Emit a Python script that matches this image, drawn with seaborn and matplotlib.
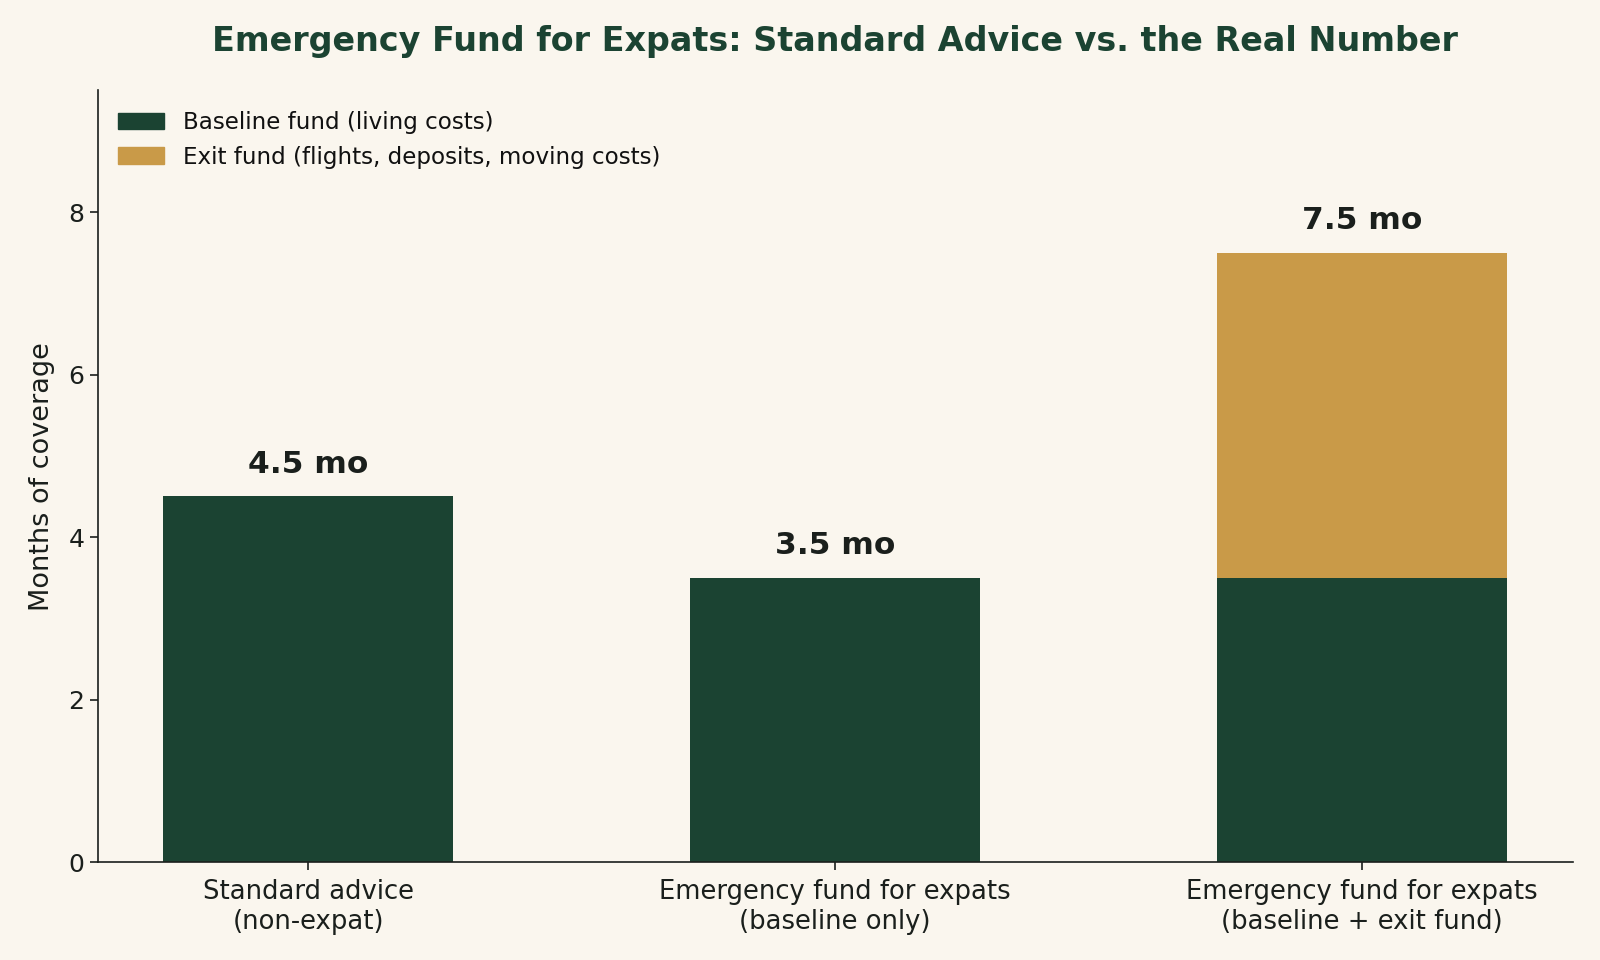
import matplotlib
matplotlib.use("Agg")
import matplotlib.pyplot as plt
import seaborn as sns
import pandas as pd
from matplotlib.patches import Patch

categories = ["Standard advice\n(non-expat)", "Emergency fund for expats\n(baseline only)",
              "Emergency fund for expats\n(baseline + exit fund)"]
baseline = [4.5, 3.5, 3.5]
exit_fund = [0.0, 0.0, 4.0]
totals = [4.5, 3.5, 7.5]
labels = ["4.5 mo", "3.5 mo", "7.5 mo"]

BG = "#FAF6EE"
GREEN = "#1B4332"
GOLD = "#C99A48"
TXT = "#1A1F1C"

sns.set_theme(style="ticks")
plt.rcParams["font.family"] = ["DejaVu Sans"]

fig, ax = plt.subplots(figsize=(16, 9.6), dpi=100)
fig.patch.set_facecolor(BG)
ax.set_facecolor(BG)

df = pd.DataFrame({"cat": categories, "base": baseline, "exit": exit_fund, "total": totals})

sns.barplot(data=df, x="cat", y="base", color=GREEN, width=0.55, ax=ax,
            saturation=1, linewidth=0)
sns.barplot(data=df, x="cat", y="exit", color=GOLD, width=0.55, ax=ax,
            saturation=1, bottom=df["base"], linewidth=0)

for i, (t, lab) in enumerate(zip(totals, labels)):
    ax.text(i, t + 0.22, lab, ha="center", va="bottom", fontsize=22.5,
            fontweight="bold", color=TXT)

ax.set_xlim(-0.4, 2.4)
ax.set_ylim(0, 9.5)
ax.set_yticks([0, 2, 4, 6, 8])
ax.set_xlabel("")
ax.set_ylabel("Months of coverage", fontsize=19.5, color=TXT, labelpad=10)
ax.tick_params(axis="both", labelsize=18, colors=TXT, length=6, width=1.2)
ax.tick_params(axis="x", labelsize=18.6, pad=6)
for s in ["top", "right"]:
    ax.spines[s].set_visible(False)
for s in ["left", "bottom"]:
    ax.spines[s].set_color(TXT)
    ax.spines[s].set_linewidth(1.2)

handles = [Patch(facecolor=GREEN, edgecolor=GREEN, label="Baseline fund (living costs)"),
           Patch(facecolor=GOLD, edgecolor=GOLD, label="Exit fund (flights, deposits, moving costs)")]
ax.legend(handles=handles, loc="upper left", frameon=False, fontsize=16.6,
          bbox_to_anchor=(0.0, 1.0), handlelength=2.0, handletextpad=0.8,
          labelcolor="#111111")

ax.set_title("Emergency Fund for Expats: Standard Advice vs. the Real Number",
             fontsize=24, fontweight="bold", color=GREEN, pad=28)

fig.subplots_adjust(left=0.061, right=0.983, top=0.906, bottom=0.102)
fig.savefig("out.png", dpi=100, facecolor=BG)
